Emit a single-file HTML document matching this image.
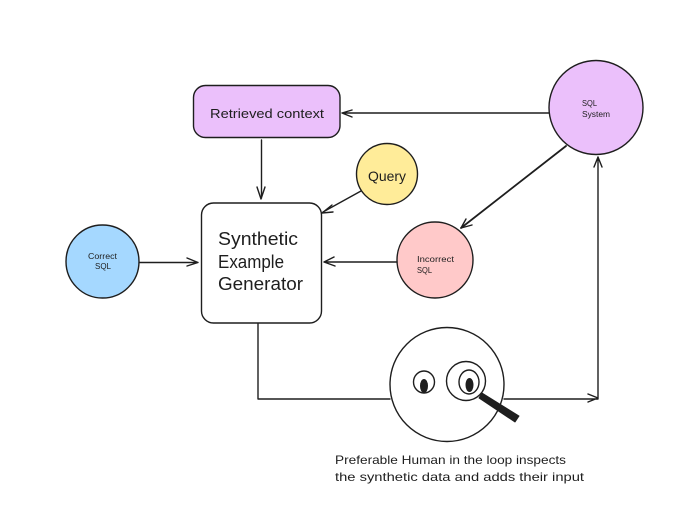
<!DOCTYPE html>
<html>
<head>
<meta charset="utf-8">
<style>
html,body{margin:0;padding:0;background:#fff;width:700px;height:521px;overflow:hidden}
svg{display:block}
text{font-family:"Liberation Sans",sans-serif;fill:#1e1e1e}
.s{fill:none;stroke:#1e1e1e;stroke-width:1.4;stroke-linecap:round;stroke-linejoin:round}
</style>
</head>
<body>
<svg width="700" height="521" viewBox="0 0 700 521" xmlns="http://www.w3.org/2000/svg">
<rect width="700" height="521" fill="#fff"/>

<!-- connectors -->
<path class="s" d="M549 113H342M352 110L342 113L352 117"/>
<path class="s" d="M261.500 140V198M257 187L261 199L265 187"/>
<path class="s" d="M361 191L323 212M332 205L322 213L333 212"/>
<path class="s" d="M139 262.500H198M187 258L198 262.500L187 266"/>
<path class="s" d="M397 262H324M334 257L324 262L335 266"/>
<path class="s" style="stroke-width:1.8" d="M566 146L461 228"/>
<path class="s" d="M466 219L461 228L472 225"/>
<path class="s" d="M258 322V399H390"/>
<path class="s" d="M504 399H598V157M588 394L598 398L588 402M594 167L598 157L602 167"/>

<!-- nodes -->
<rect x="193.500" y="85.500" width="146.500" height="52" rx="12" class="s" style="fill:#ebc0fb"/>
<rect x="201.500" y="203" width="120" height="120" rx="12" class="s" style="fill:#fff"/>
<circle cx="387" cy="174" r="30.500" class="s" style="fill:#ffec99"/>
<circle cx="596" cy="107.500" r="47" class="s" style="fill:#ebc0fb"/>
<circle cx="435" cy="260" r="38" class="s" style="fill:#ffc9c9"/>
<circle cx="102.500" cy="261.500" r="36.500" class="s" style="fill:#a5d8ff"/>

<!-- human -->
<circle cx="447" cy="384.500" r="57" class="s" style="fill:#fff"/>
<ellipse cx="424" cy="382" rx="10.500" ry="11" class="s"/>
<ellipse cx="424" cy="386" rx="4" ry="7" fill="#1e1e1e"/>
<circle cx="466" cy="381" r="19.500" class="s" style="fill:#fff"/>
<ellipse cx="469" cy="382" rx="10" ry="12" class="s"/>
<ellipse cx="469.500" cy="385" rx="4" ry="7" fill="#1e1e1e"/>
<path d="M482 393L519 416L515 422L479 398Z" fill="#1e1e1e" stroke="#1e1e1e" stroke-width="1" stroke-linejoin="round"/>

<!-- labels -->
<text x="210" y="118" font-size="13" textLength="114" lengthAdjust="spacingAndGlyphs">Retrieved context</text>
<text x="368" y="181" font-size="14" textLength="38" lengthAdjust="spacingAndGlyphs">Query</text>
<text x="218" y="245" font-size="18" textLength="80" lengthAdjust="spacingAndGlyphs">Synthetic</text>
<text x="218" y="268" font-size="18" textLength="66" lengthAdjust="spacingAndGlyphs">Example</text>
<text x="218" y="290" font-size="18" textLength="85" lengthAdjust="spacingAndGlyphs">Generator</text>
<text x="88" y="259" font-size="8" textLength="29" lengthAdjust="spacingAndGlyphs">Correct</text>
<text x="95" y="269" font-size="8" textLength="16" lengthAdjust="spacingAndGlyphs">SQL</text>
<text x="582" y="106" font-size="8" textLength="15" lengthAdjust="spacingAndGlyphs">SQL</text>
<text x="582" y="117" font-size="8" textLength="28" lengthAdjust="spacingAndGlyphs">System</text>
<text x="417" y="262" font-size="8" textLength="37" lengthAdjust="spacingAndGlyphs">Incorrect</text>
<text x="417" y="273" font-size="8" textLength="15" lengthAdjust="spacingAndGlyphs">SQL</text>
<text x="335" y="464" font-size="12" textLength="231" lengthAdjust="spacingAndGlyphs">Preferable Human in the loop inspects</text>
<text x="335" y="481" font-size="12" textLength="249" lengthAdjust="spacingAndGlyphs">the synthetic data and adds their input</text>
</svg>
</body>
</html>
